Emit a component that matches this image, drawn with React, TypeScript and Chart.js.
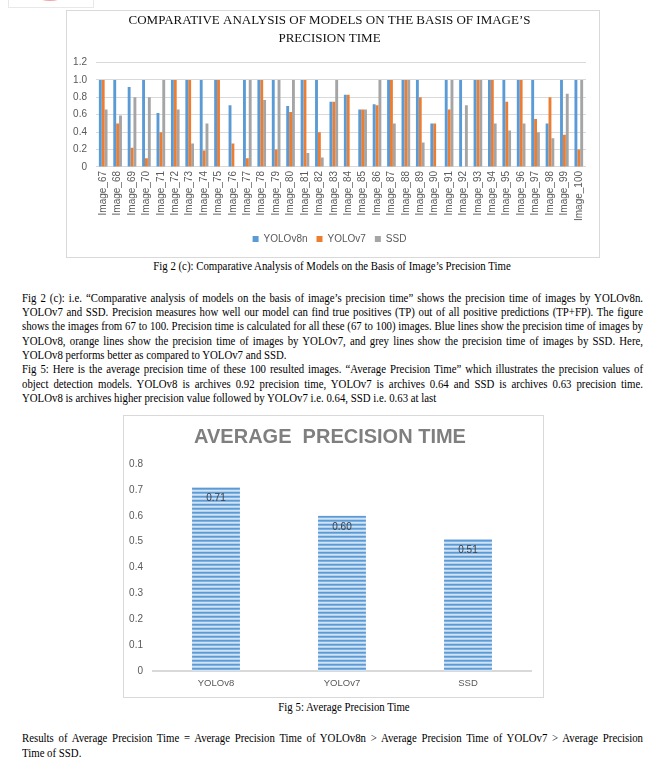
import React, { useEffect, useRef } from 'react';
import { Chart, registerables } from 'chart.js';

Chart.register(...registerables);

// ---------- Data: Fig 2 (c) ----------
const imageLabels = [
  'Image_67', 'Image_68', 'Image_69', 'Image_70', 'Image_71', 'Image_72', 'Image_73', 'Image_74',
  'Image_75', 'Image_76', 'Image_77', 'Image_78', 'Image_79', 'Image_80', 'Image_81', 'Image_82',
  'Image_83', 'Image_84', 'Image_85', 'Image_86', 'Image_87', 'Image_88', 'Image_89', 'Image_90',
  'Image_91', 'Image_92', 'Image_93', 'Image_94', 'Image_95', 'Image_96', 'Image_97', 'Image_98',
  'Image_99', 'Image_100',
];
const yolov8nValues = [
  1, 1, 0.92, 1, 0.62, 1, 1, 1, 1, 0.71, 1, 1, 1, 0.7, 1, 1, 0.75, 0.83, 0.66, 0.72, 1, 1, 1, 0.5,
  1, 1, 1, 1, 1, 1, 1, 0.5, 1, 1,
];
const yolov7Values = [
  1, 0.5, 0.22, 0.1, 0.4, 1, 1, 0.19, 1, 0.27, 0.1, 1, 0.2, 0.63, 1, 0.4, 0.75, 0.83, 0.66, 0.71, 1, 1, 0.8, 0.5,
  0.66, 0, 1, 1, 0.75, 1, 0.55, 0.8, 0.37, 0.2,
];
const ssdValues = [
  0.66, 0.59, 0.8, 0.8, 1, 0.66, 0.27, 0.5, 0, 0, 1, 0.77, 1, 1, 0.16, 0.11, 1, 0, 0.66, 1, 0.5, 1, 0.28, 0,
  1, 0.71, 1, 0.5, 0.42, 0.5, 0.4, 0.33, 0.84, 1,
];
const seriesNames = ['YOLOv8n', 'YOLOv7', 'SSD'];

// ---------- Data: Fig 5 ----------
const avgModels = ['YOLOv8', 'YOLOv7', 'SSD'];
const avgValues = [0.71, 0.6, 0.51];

// ---------- Text ----------
const chart1Title = ['COMPARATIVE ANALYSIS OF MODELS ON THE BASIS OF IMAGE\u2019S', 'PRECISION TIME'];
const chart2Title = 'AVERAGE  PRECISION TIME';
const caption1 = 'Fig 2 (c): Comparative Analysis of Models on the Basis of Image\u2019s Precision Time';
const caption2 = 'Fig 5: Average Precision Time';
const paragraphLines = [
  'Fig 2 (c): i.e. \u201CComparative analysis of models on the basis of image\u2019s precision time\u201D shows the precision time of images by YOLOv8n.',
  'YOLOv7 and SSD. Precision measures how well our model can find true positives (TP) out of all positive predictions (TP+FP). The figure',
  'shows the images from 67 to 100. Precision time is calculated for all these (67 to 100) images. Blue lines show the precision time of images by',
  'YOLOv8, orange lines show the precision time of images by YOLOv7, and grey lines show the precision time of images by SSD. Here,',
  'YOLOv8 performs better as compared to YOLOv7 and SSD.',
  'Fig 5: Here is the average precision time of these 100 resulted images. \u201CAverage Precision Time\u201D which illustrates the precision values of',
  'object detection models. YOLOv8 is archives 0.92 precision time, YOLOv7 is archives 0.64 and SSD is archives 0.63 precision time.',
  'YOLOv8 is archives higher precision value followed by YOLOv7 i.e. 0.64, SSD i.e. 0.63 at last',
];
const paragraphJustified = [true, true, true, true, false, true, true, false];
const resultLines = [
  'Results of Average Precision Time = Average Precision Time of YOLOv8n > Average Precision Time of YOLOv7 > Average Precision',
  'Time of SSD.',
];
const resultJustified = [true, false];

const SANS = '"Liberation Sans", Arial, sans-serif';
const SERIF = '"Liberation Serif", "Times New Roman", serif';
const BODY_PX = 11.5;
const TEXT_LEFT = 22;
const TEXT_W = 621;
const LINE_H = 14.3;

function measureWidth(text: string, font: string): number {
  const c = document.createElement('canvas').getContext('2d');
  if (!c) return text.length * 5;
  c.font = font;
  return c.measureText(text).width;
}

function computeScale(): number {
  const font = `${BODY_PX}px ${SERIF}`;
  let maxW = 0;
  paragraphLines.forEach((t, i) => {
    if (paragraphJustified[i]) maxW = Math.max(maxW, measureWidth(t, font));
  });
  resultLines.forEach((t, i) => {
    if (resultJustified[i]) maxW = Math.max(maxW, measureWidth(t, font));
  });
  return Math.min(1, (TEXT_W - 1) / (maxW + 2));
}

function makeStripePattern(ctx: CanvasRenderingContext2D): CanvasPattern | string {
  const p = document.createElement('canvas');
  p.width = 4;
  p.height = 4;
  const g = p.getContext('2d');
  if (!g) return '#5B9BD5';
  g.fillStyle = '#D2E3F4';
  g.fillRect(0, 0, 4, 4);
  g.fillStyle = '#5B9BD5';
  g.fillRect(0, 0, 4, 1);
  g.fillStyle = '#80B0DF';
  g.fillRect(0, 1, 4, 1);
  g.fillStyle = '#B3D0EC';
  g.fillRect(0, 3, 4, 1);
  return ctx.createPattern(p, 'repeat') || '#5B9BD5';
}

const valueLabelPlugin = {
  id: 'valueLabels',
  afterDatasetsDraw(chart: any) {
    const { ctx } = chart;
    const meta = chart.getDatasetMeta(0);
    ctx.save();
    ctx.font = `10px ${SANS}`;
    ctx.fillStyle = '#404040';
    ctx.textAlign = 'center';
    ctx.textBaseline = 'middle';
    meta.data.forEach((bar: any, i: number) => {
      const v = chart.data.datasets[0].data[i] as number;
      ctx.fillText(v.toFixed(2), bar.x, bar.y + 11);
    });
    ctx.restore();
  },
};

function zeroPad(s: any) {
  s.paddingLeft = 0;
  s.paddingRight = 0;
  s.paddingTop = 0;
  s.paddingBottom = 0;
}

function TextLine(props: { text: string; top: number; justify: boolean; scale: number }) {
  const { text, top, justify, scale } = props;
  return (
    <div
      style={{
        position: 'absolute',
        left: TEXT_LEFT,
        top,
        width: TEXT_W / scale,
        transform: `scaleX(${scale})`,
        transformOrigin: 'left top',
        fontFamily: SERIF,
        fontSize: BODY_PX,
        lineHeight: `${LINE_H}px`,
        color: '#000',
        textAlign: justify ? 'justify' : 'left',
        textAlignLast: justify ? 'justify' : 'left',
        whiteSpace: 'normal',
      } as React.CSSProperties}
    >
      {text}
    </div>
  );
}

function CenteredLine(props: { text: string; top: number; center: number; scale: number }) {
  const { text, top, center, scale } = props;
  const half = 300;
  return (
    <div
      style={{
        position: 'absolute',
        left: center - half,
        top,
        width: (half * 2) / scale,
        transform: `scaleX(${scale})`,
        transformOrigin: 'left top',
        fontFamily: SERIF,
        fontSize: BODY_PX,
        lineHeight: `${LINE_H}px`,
        color: '#000',
        textAlign: 'center',
        whiteSpace: 'nowrap',
      }}
    >
      {text}
    </div>
  );
}

export default function App() {
  const c1 = useRef<HTMLCanvasElement>(null);
  const c2 = useRef<HTMLCanvasElement>(null);
  const scale = computeScale();

  useEffect(() => {
    if (!c1.current || !c2.current) return;
    Chart.defaults.font.family = SANS;

    const ch1 = new Chart(c1.current, {
      type: 'bar',
      data: {
        labels: imageLabels,
        datasets: [
          { label: seriesNames[0], data: yolov8nValues, backgroundColor: '#5B9BD5', categoryPercentage: 0.6, barPercentage: 1 },
          { label: seriesNames[1], data: yolov7Values, backgroundColor: '#ED7D31', categoryPercentage: 0.6, barPercentage: 1 },
          { label: seriesNames[2], data: ssdValues, backgroundColor: '#A5A5A5', categoryPercentage: 0.6, barPercentage: 1 },
        ],
      },
      options: {
        animation: false,
        responsive: false,
        devicePixelRatio: 1,
        layout: { padding: { left: 6, right: 13, top: 0, bottom: 3 } },
        plugins: {
          title: {
            display: true,
            text: chart1Title,
            color: '#111',
            font: { family: SERIF, size: 13, weight: 'normal', lineHeight: 1.385 },
            padding: { top: 1, bottom: 14.5 },
          },
          legend: {
            position: 'bottom',
            labels: {
              boxWidth: 6,
              boxHeight: 6,
              color: '#595959',
              font: { size: 10, family: SANS },
              padding: 9,
            },
          },
          tooltip: { enabled: false },
        },
        scales: {
          x: {
            grid: { display: false, drawTicks: false },
            border: { display: false },
            afterFit: (s: any) => { zeroPad(s); },
            ticks: {
              autoSkip: false,
              minRotation: 90,
              maxRotation: 90,
              color: '#595959',
              font: { size: 10 },
              padding: 4,
            },
          },
          y: {
            min: 0,
            max: 1.2,
            grid: { color: '#D9D9D9', drawTicks: false },
            border: { display: false },
            afterFit: (s: any) => { zeroPad(s); s.width = 23; },
            ticks: { stepSize: 0.2, color: '#595959', font: { size: 10 }, padding: 9 },
          },
        },
      },
    } as any);

    const ctx2 = c2.current.getContext('2d') as CanvasRenderingContext2D;
    const stripe = makeStripePattern(ctx2);

    const ch2 = new Chart(c2.current, {
      type: 'bar',
      data: {
        labels: avgModels,
        datasets: [
          {
            label: 'Average Precision Time',
            data: avgValues,
            backgroundColor: stripe as any,
            categoryPercentage: 1,
            barPercentage: 0.38,
          },
        ],
      },
      options: {
        animation: false,
        responsive: false,
        devicePixelRatio: 1,
        layout: { padding: { left: 5, right: 12, top: 0, bottom: 0 } },
        plugins: {
          title: {
            display: true,
            text: chart2Title,
            color: '#7F7F7F',
            font: { family: SANS, size: 20, weight: 'bold', lineHeight: 1.2 },
            padding: { top: 9, bottom: 15 },
          },
          legend: { display: false },
          tooltip: { enabled: false },
        },
        scales: {
          x: {
            grid: { display: false, drawTicks: false },
            border: { display: true, color: '#D9D9D9', width: 2 },
            afterFit: (s: any) => { zeroPad(s); s.height = 26; },
            ticks: { color: '#595959', font: { size: 9.5 }, padding: 7 },
          },
          y: {
            min: 0,
            max: 0.8,
            grid: { display: false, drawTicks: false },
            border: { display: false },
            afterFit: (s: any) => { zeroPad(s); s.width = 24; },
            ticks: { stepSize: 0.1, color: '#595959', font: { size: 10 }, padding: 10 },
          },
        },
      },
      plugins: [valueLabelPlugin],
    } as any);

    return () => {
      ch1.destroy();
      ch2.destroy();
    };
  }, []);

  return (
    <div style={{ position: 'absolute', left: 0, top: 0, width: 665, height: 773, background: '#fff', overflow: 'hidden' }}>
      {/* faint logo fragment at top-left */}
      <div
        style={{
          position: 'absolute',
          left: 8,
          top: -2,
          width: 84,
          height: 8,
          border: '1px solid #E8E8E8',
          overflow: 'hidden',
        }}
      >
        <div style={{ position: 'absolute', left: 28, top: -8, width: 26, height: 10, borderRadius: '50%', background: '#F4A3A3' }} />
      </div>

      {/* Chart 1 box */}
      <div style={{ position: 'absolute', left: 66, top: 10, width: 532, height: 246, border: '1px solid #D9D9D9' }}>
        <canvas ref={c1} width={532} height={246} style={{ display: 'block', width: 532, height: 246 }} />
      </div>

      <CenteredLine text={caption1} top={259} center={332} scale={scale} />

      {paragraphLines.map((t, i) => (
        <TextLine key={'p' + i} text={t} top={290.7 + LINE_H * i} justify={paragraphJustified[i]} scale={scale} />
      ))}

      {/* Chart 2 box */}
      <div style={{ position: 'absolute', left: 123, top: 415, width: 419, height: 281, border: '1px solid #D9D9D9' }}>
        <canvas ref={c2} width={419} height={281} style={{ display: 'block', width: 419, height: 281 }} />
      </div>

      <CenteredLine text={caption2} top={700} center={344} scale={scale} />

      {resultLines.map((t, i) => (
        <TextLine key={'r' + i} text={t} top={731 + 15 * i} justify={resultJustified[i]} scale={scale} />
      ))}
    </div>
  );
}
